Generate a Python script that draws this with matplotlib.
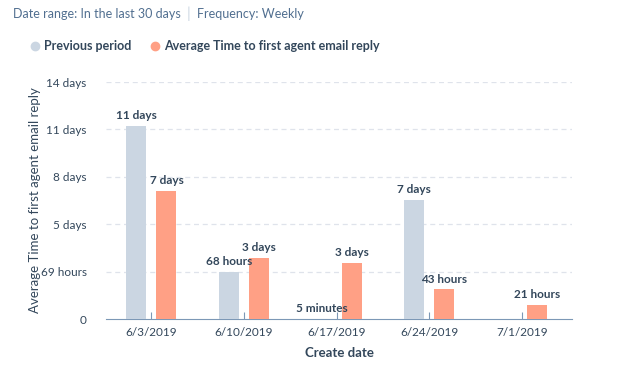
import matplotlib.pyplot as plt
import numpy as np

plt.rcParams['font.family'] = ['Lato', 'DejaVu Sans']

dates = ["6/3/2019", "6/10/2019", "6/17/2019", "6/24/2019", "7/1/2019"]
# values in hours
previous = [281, 68, 0.083, 173, 0]
current = [186, 89, 81.5, 43, 21]
previous_labels = ["11 days", "68 hours", "5 minutes", "7 days", None]
current_labels = ["7 days", "3 days", "3 days", "43 hours", "21 hours"]
ytick_vals = [0, 69, 138, 207, 276, 345]
ytick_labels = ["0", "69 hours", "5 days", "8 days", "11 days", "14 days"]

c_prev = "#cbd6e2"
c_cur = "#ffa085"
c_text = "#33475b"
c_axis = "#7c98b6"

fig = plt.figure(figsize=(6.39, 3.87), dpi=100)
ax = fig.add_axes([0.166, 0.1757, 0.729, 0.6123])

x = np.arange(len(dates))
off = 0.162
w = 0.216
ax.bar(x - off, previous, w, color=c_prev, zorder=3)
ax.bar(x + off, current, w, color=c_cur, zorder=3)

for xi, v, lab in zip(x - off, previous, previous_labels):
    if lab:
        ax.annotate(lab, (xi, v), xytext=(0, 3.5), textcoords="offset points",
                    ha="center", va="bottom", fontsize=8.5, fontweight="bold", color=c_text)
for xi, v, lab in zip(x + off, current, current_labels):
    ax.annotate(lab, (xi, v), xytext=(0, 3.5), textcoords="offset points",
                ha="center", va="bottom", fontsize=8.5, fontweight="bold", color=c_text)

ax.set_xlim(-0.49, 4.54)
ax.set_ylim(0, 345)
ax.set_yticks(ytick_vals)
ax.set_yticklabels(ytick_labels)
ax.set_xticks(x)
ax.set_xticklabels(dates)
for s in ["top", "right", "left"]:
    ax.spines[s].set_visible(False)
ax.spines["bottom"].set_color(c_axis)
ax.tick_params(axis="x", direction="in", length=5, color=c_axis, labelsize=8.5,
               labelcolor=c_text, pad=6)
ax.tick_params(axis="y", length=0, labelsize=8.5, labelcolor=c_text, pad=14)
for v in ytick_vals[1:]:
    ax.axhline(v, color="#dfe3eb", lw=0.9, ls=(0, (4, 3)), zorder=1)

ax.set_xlabel("Create date", fontsize=9.5, fontweight="bold", color=c_text, labelpad=6)
ax.set_ylabel("Average Time to first agent email reply", fontsize=9.5, color=c_text, labelpad=0)

fig.text(13 / 639, 1 - 14 / 387, "Date range: In the last 30 days", fontsize=9,
         color="#516f90", va="center")
fig.text(187 / 639, 1 - 14 / 387, "|", fontsize=10.5, color="#cbd6e2", va="center")
fig.text(197 / 639, 1 - 14 / 387, "Frequency: Weekly", fontsize=9,
         color="#516f90", va="center")

fig.lines.append(plt.Line2D([35 / 639], [1 - 46 / 387], marker="o", ms=6,
                            color=c_prev, transform=fig.transFigure))
fig.text(44 / 639, 1 - 46 / 387, "Previous period", fontsize=9, fontweight="bold",
         color=c_text, va="center")
fig.lines.append(plt.Line2D([155 / 639], [1 - 46 / 387], marker="o", ms=6,
                            color=c_cur, transform=fig.transFigure))
fig.text(164 / 639, 1 - 46 / 387, "Average Time to first agent email reply", fontsize=9,
         fontweight="bold", color=c_text, va="center")

fig.savefig("out.png", dpi=100)
